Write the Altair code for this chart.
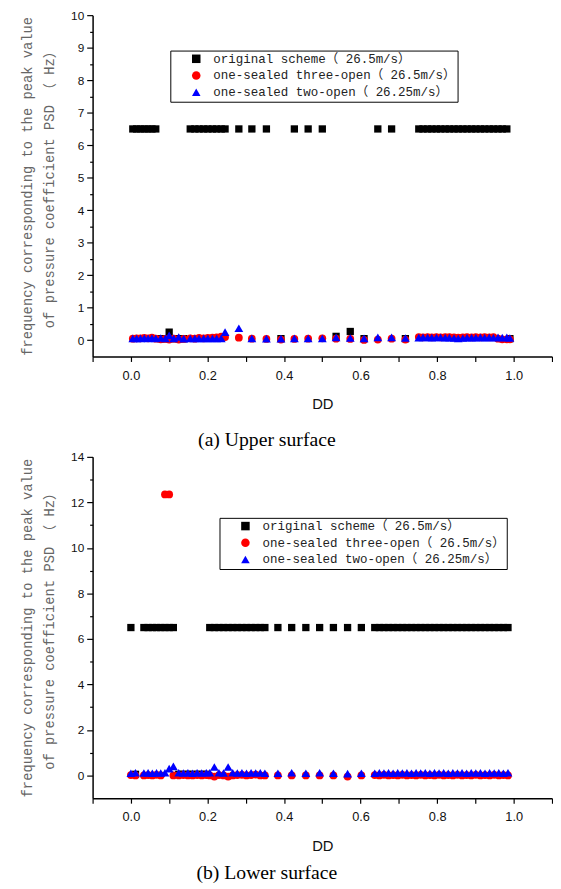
import altair as alt
import pandas as pd

SERIES = [
    "original scheme（ 26.5m/s）",
    "one-sealed three-open（ 26.5m/s）",
    "one-sealed two-open（ 26.25m/s）",
]
COLORS = ["#000000", "#ff0000", "#0000ff"]
SHAPES = ["square", "circle", "triangle-up"]

# ---------------- (a) Upper surface ----------------
dd_upper = [
    0.005, 0.015, 0.025, 0.035, 0.045, 0.055, 0.065,
    0.078, 0.090, 0.100, 0.112, 0.125, 0.138,
    0.155, 0.167, 0.178, 0.190, 0.201, 0.213, 0.224, 0.236, 0.246,
    0.282, 0.316, 0.354, 0.392, 0.427, 0.463, 0.500, 0.536, 0.573, 0.609, 0.645, 0.681, 0.717,
    0.752, 0.763, 0.775, 0.786, 0.798, 0.809, 0.821, 0.832, 0.844, 0.855, 0.867,
    0.878, 0.890, 0.901, 0.913, 0.924, 0.936, 0.947, 0.959, 0.970, 0.982, 0.990,
]
orig_upper = [
    6.5, 6.5, 6.5, 6.5, 6.5, 6.5, 6.5,
    0.05, 0.05, 0.25, 0.05, 0.05, 0.05,
    6.5, 6.5, 6.5, 6.5, 6.5, 6.5, 6.5, 6.5, 6.5,
    6.5, 6.5, 6.5, 0.05, 6.5, 6.5, 6.5, 0.12, 0.27, 0.05, 6.5, 6.5, 0.05,
    6.5, 6.5, 6.5, 6.5, 6.5, 6.5, 6.5, 6.5, 6.5, 6.5, 6.5,
    6.5, 6.5, 6.5, 6.5, 6.5, 6.5, 6.5, 6.5, 6.5, 6.5, 0.05,
]
three_upper = [
    0.05, 0.06, 0.06, 0.07, 0.06, 0.08, 0.05,
    0.03, 0.04, 0.02, 0.05, 0.02, 0.04,
    0.06, 0.05, 0.07, 0.06, 0.07, 0.08, 0.09, 0.11, 0.10,
    0.08, 0.05, 0.04, 0.02, 0.04, 0.05, 0.06, 0.05, 0.04, 0.01, 0.02, 0.05, 0.02,
    0.10, 0.09, 0.10, 0.09, 0.10, 0.09, 0.10, 0.10, 0.09, 0.08, 0.09,
    0.10, 0.09, 0.10, 0.09, 0.10, 0.09, 0.10, 0.05, 0.03, 0.03, 0.03,
]
two_upper = [
    0.06, 0.06, 0.06, 0.07, 0.06, 0.07, 0.06,
    0.07, 0.06, 0.15, 0.06, 0.10, 0.05,
    0.06, 0.06, 0.06, 0.06, 0.06, 0.06, 0.06, 0.06, 0.25,
    0.37, 0.06, 0.05, 0.05, 0.06, 0.06, 0.06, 0.09, 0.07, 0.06, 0.09, 0.09, 0.07,
    0.08, 0.09, 0.09, 0.08, 0.09, 0.09, 0.08, 0.08, 0.07, 0.06, 0.07,
    0.08, 0.08, 0.08, 0.09, 0.08, 0.09, 0.08, 0.09, 0.08, 0.09, 0.07,
]

# ---------------- (b) Lower surface ----------------
dd_lower = [
    0.000, 0.012, 0.034, 0.045, 0.056, 0.067, 0.078, 0.089, 0.100, 0.111,
    0.125, 0.137, 0.149, 0.161, 0.173, 0.185, 0.197,
    0.206, 0.218, 0.230, 0.242, 0.254, 0.266, 0.278, 0.290, 0.302, 0.314, 0.326, 0.338, 0.350,
    0.384, 0.420, 0.457, 0.493, 0.529, 0.566, 0.602,
    0.637, 0.649, 0.661, 0.673, 0.685, 0.697, 0.709, 0.721, 0.733, 0.745,
    0.757, 0.769, 0.781, 0.793, 0.805, 0.817, 0.829, 0.841, 0.853, 0.865,
    0.877, 0.889, 0.901, 0.913, 0.925, 0.937, 0.949, 0.961, 0.973, 0.985,
]
orig_lower = [
    6.5, 0.05, 6.5, 6.5, 6.5, 6.5, 6.5, 6.5, 6.5, 6.5,
    0.05, 0.05, 0.05, 0.05, 0.05, 0.05, 0.05,
    6.5, 6.5, 6.5, 6.5, 6.5, 6.5, 6.5, 6.5, 6.5, 6.5, 6.5, 6.5, 6.5,
    6.5, 6.5, 6.5, 6.5, 6.5, 6.5, 6.5,
    6.5, 6.5, 6.5, 6.5, 6.5, 6.5, 6.5, 6.5, 6.5, 6.5,
    6.5, 6.5, 6.5, 6.5, 6.5, 6.5, 6.5, 6.5, 6.5, 6.5,
    6.5, 6.5, 6.5, 6.5, 6.5, 6.5, 6.5, 6.5, 6.5, 6.5,
]
three_lower = [
    0.02, 0.00, 0.00, 0.02, 0.00, 0.03, 0.00, 12.35, 12.35, 0.00,
    0.00, 0.02, 0.00, 0.00, 0.02, 0.00, 0.02,
    0.00, -0.05, 0.02, 0.00, -0.05, 0.00, 0.02, 0.03, 0.00, 0.02, 0.04, 0.00, 0.00,
    0.00, 0.00, 0.00, 0.00, 0.00, -0.05, 0.00,
    0.02, 0.00, 0.03, 0.00, 0.02, 0.00, 0.03, 0.00, 0.02, 0.00,
    0.03, 0.00, 0.02, 0.00, 0.03, 0.00, 0.02, 0.00, 0.03, 0.00,
    0.02, 0.00, 0.03, 0.00, 0.02, 0.00, 0.03, 0.00, 0.02, 0.00,
]
two_lower = [
    0.10, 0.12, 0.11, 0.12, 0.10, 0.12, 0.11, 0.12, 0.30, 0.40,
    0.12, 0.11, 0.12, 0.10, 0.12, 0.11, 0.12,
    0.12, 0.37, 0.12, 0.11, 0.37, 0.12, 0.11, 0.12, 0.10, 0.12, 0.11, 0.12, 0.10,
    0.10, 0.12, 0.10, 0.12, 0.10, 0.08, 0.10,
    0.10, 0.12, 0.11, 0.12, 0.10, 0.12, 0.11, 0.12, 0.10, 0.12,
    0.11, 0.12, 0.10, 0.12, 0.11, 0.12, 0.10, 0.12, 0.11, 0.12,
    0.10, 0.12, 0.11, 0.12, 0.10, 0.12, 0.11, 0.12, 0.10, 0.12,
]

Y_TITLE = ["frequency corresponding to the peak value", "of pressure coefficient PSD （ Hz）"]
MONO = "Liberation Mono, Noto Sans CJK SC, monospace"
SANS = "Liberation Sans, Arial, sans-serif"
SERIF = "Liberation Serif, Times New Roman, serif"

W, H = 467, 347


def long_table(dd, series_values):
    rows = []
    for k, (name, vals) in enumerate(zip(SERIES, series_values)):
        for d, v in zip(dd, vals):
            rows.append({"DD": d, "f": v, "series": name, "k": k})
    return pd.DataFrame(rows)


def panel(dd, series_values, ymin, ymax, yticks, y_major_test, legend_xy, caption, cap_offset):
    df = long_table(dd, series_values)
    x_ticks = [round(-0.1 + 0.1 * i, 1) for i in range(13)]
    x = alt.X(
        "DD:Q",
        scale=alt.Scale(domain=[-0.1, 1.1], nice=False, zero=False),
        axis=alt.Axis(
            title="DD",
            values=x_ticks,
            labelExpr="round(datum.value*10) % 2 == 0 && datum.value >= 0 && datum.value <= 1.0 ? format(datum.value, '.1f') : ''",
            labelFont=SANS, labelFontSize=13, labelColor="#111", labelPadding=8,
            titleFont=SANS, titleFontSize=15, titleFontWeight="normal", titleColor="#111", titlePadding=15,
            tickSize=5, tickColor="black", tickWidth=1.2,
            domainColor="black", domainWidth=1.5, grid=False, labelFlush=False,
        ),
    )
    y = alt.Y(
        "f:Q",
        scale=alt.Scale(domain=[ymin, ymax], nice=False, zero=False),
        axis=alt.Axis(
            title=Y_TITLE,
            values=yticks,
            labelExpr=y_major_test + " ? format(datum.value, 'd') : ''",
            labelFont=SANS, labelFontSize=12, labelColor="#111", labelPadding=3,
            titleFont=MONO, titleFontSize=14, titleFontWeight="normal", titleColor="#666",
            titleLineHeight=23, titlePadding=14,
            tickSize={"condition": {"test": y_major_test, "value": 6}, "value": 3},
            tickColor="black", tickWidth=1.2,
            domainColor="black", domainWidth=1.5, grid=False, labelFlush=False,
        ),
    )
    color = alt.Color(
        "series:N",
        scale=alt.Scale(domain=SERIES, range=COLORS),
        legend=alt.Legend(
            title=None, orient="none", legendX=legend_xy[0], legendY=legend_xy[1],
            strokeColor="black", padding=2, fillColor="white",
            labelFont=MONO, labelFontSize=12.7, labelColor="#222", labelLimit=400,
            symbolSize=75, symbolStrokeWidth=0, symbolOffset=18, labelOffset=11,
            rowPadding=3,
        ),
    )
    shape = alt.Shape("series:N", scale=alt.Scale(domain=SERIES, range=SHAPES), legend=None)

    layers = []
    sizes = [55, 62, 80]
    for k, name in enumerate(SERIES):
        layers.append(
            alt.Chart(df)
            .transform_filter(alt.datum.k == k)
            .mark_point(filled=True, opacity=1, size=sizes[k], strokeWidth=0)
            .encode(x=x, y=y, color=color, shape=shape)
        )
    return alt.layer(*layers).properties(
        width=W,
        height=H,
        title=alt.TitleParams(
            text=caption, orient="bottom", anchor="middle", frame="bounds",
            font=SERIF, fontSize=20, fontWeight="normal", color="black",
            offset=cap_offset, dx=-20,
        ),
    )


upper_ticks = [i * 0.5 for i in range(21)]
lower_ticks = list(range(0, 15))

top = panel(
    dd_upper, [orig_upper, three_upper, two_upper], -0.5, 10, upper_ticks,
    "round(datum.value*2) % 2 == 0", (79, 36), "(a) Upper surface", 19,
)
bottom = panel(
    dd_lower, [orig_lower, three_lower, two_lower], -1, 14, lower_ticks,
    "round(datum.value) % 2 == 0", (129, 62), "(b) Lower surface", 10,
)

chart = (
    alt.vconcat(top, bottom, spacing=1)
    .resolve_scale(color="independent", shape="independent")
    .properties(padding={"left": 12, "top": -6, "right": 0, "bottom": 0})
    .configure_view(stroke=None)
)

chart.save("out.html", embed_options={"renderer": "svg", "actions": False})
